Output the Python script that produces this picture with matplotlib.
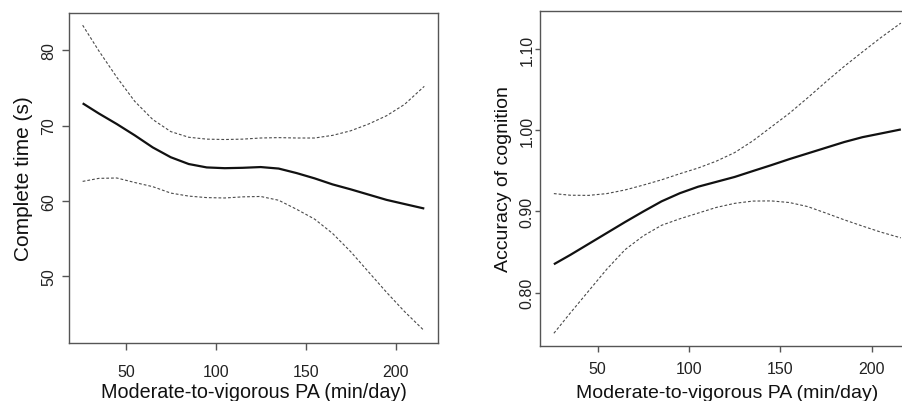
import matplotlib
matplotlib.use("Agg")
import matplotlib.pyplot as plt

plt.rcParams['font.family'] = ['Liberation Sans', 'DejaVu Sans']

# Shared x positions (MVPA, min/day)
x_vals = [26, 35, 45, 55, 65, 75, 85, 95, 105, 115, 125, 135, 145, 155, 165, 175, 185, 195, 205, 216]

# Left panel: Complete time (s)
fit_left = [72.95, 71.6, 70.2, 68.7, 67.1, 65.8, 64.9, 64.45, 64.35, 64.4,
            64.5, 64.3, 63.7, 63.0, 62.2, 61.55, 60.85, 60.15, 59.6, 59.0]
upper_left = [83.3, 79.9, 76.4, 73.2, 70.8, 69.2, 68.45, 68.2, 68.15, 68.2,
              68.35, 68.4, 68.35, 68.35, 68.7, 69.3, 70.2, 71.3, 72.8, 75.2]
lower_left = [62.6, 63.0, 63.05, 62.45, 61.9, 61.05, 60.65, 60.45, 60.4, 60.55,
              60.6, 60.1, 58.9, 57.6, 55.7, 53.3, 50.6, 47.9, 45.35, 42.8]

# Right panel: Accuracy of cognition
fit_right = [0.835, 0.8465, 0.860, 0.8735, 0.887, 0.900, 0.9125, 0.9225, 0.9305, 0.9365,
             0.9425, 0.9498, 0.957, 0.9645, 0.9715, 0.9785, 0.9855, 0.9915, 0.996, 1.001]
upper_right = [0.922, 0.920, 0.9198, 0.922, 0.9265, 0.9325, 0.939, 0.9465, 0.9535, 0.962,
               0.9725, 0.987, 1.004, 1.021, 1.040, 1.0597, 1.0787, 1.0965, 1.114, 1.132]
lower_right = [0.750, 0.775, 0.802, 0.829, 0.853, 0.870, 0.883, 0.891, 0.898, 0.905,
               0.910, 0.9128, 0.913, 0.911, 0.906, 0.898, 0.8897, 0.882, 0.8746, 0.8675]

xticks = [50, 100, 150, 200]
yticks_left = [50, 60, 70, 80]
yticks_right = [0.80, 0.90, 1.00, 1.10]
xlabel = "Moderate-to-vigorous PA (min/day)"
ylabel_left = "Complete time (s)"
ylabel_right = "Accuracy of cognition"

fig = plt.figure(figsize=(9.03, 4.02), dpi=100)
ax1 = fig.add_axes([0.0764, 0.1443, 0.4086, 0.8209])
ax2 = fig.add_axes([0.598, 0.1376, 0.415, 0.8334])

box_col = '#555555'
ci_col = '#4a4a4a'


def style(ax, xs, ys, ylabel, yticks, yfmt, cfg):
    ax.plot(xs, ys[0], color='#111111', lw=1.6, solid_capstyle='butt')
    ax.plot(xs, ys[1], color=ci_col, lw=0.8, dashes=(2.5, 1.8))
    ax.plot(xs, ys[2], color=ci_col, lw=0.8, dashes=(2.5, 1.8))
    lo = min(min(ys[2]), min(ys[0]))
    hi = max(max(ys[1]), max(ys[0]))
    pad = (hi - lo) * 0.04
    ax.set_ylim(lo - pad, hi + pad)
    xpad = (max(xs) - min(xs)) * 0.04
    ax.set_xlim(min(xs) - xpad, max(xs) + xpad)
    ax.set_xticks(xticks)
    ax.set_xticklabels([str(t) for t in xticks])
    ax.set_yticks(yticks)
    ax.set_yticklabels([yfmt.format(t) for t in yticks], rotation=90, va='center')
    for s in ax.spines.values():
        s.set_color(box_col)
        s.set_linewidth(1.0)
    ax.tick_params(axis='both', direction='out', width=1.0, color=box_col,
                   labelsize=cfg['tick_size'], labelcolor='#222222')
    ax.tick_params(axis='x', length=cfg['xlen'], pad=cfg['xpad'])
    ax.tick_params(axis='y', length=cfg['ylen'], pad=cfg['ypad'])
    ax.set_ylabel(ylabel, fontsize=cfg['ylab_size'], color='#111111', labelpad=cfg['ylabpad'])
    ax.set_xlabel(xlabel, fontsize=cfg['xlab_size'], color='#111111', labelpad=cfg['xlabpad'])


style(ax1, x_vals, (fit_left, upper_left, lower_left), ylabel_left, yticks_left, "{:d}",
      dict(tick_size=11.5, xlen=5, ylen=5, xpad=10, ypad=4, ylab_size=15, ylabpad=6,
           xlab_size=14.2, xlabpad=2))
style(ax2, x_vals, (fit_right, upper_right, lower_right), ylabel_right, yticks_right, "{:.2f}",
      dict(tick_size=11.5, xlen=4, ylen=3.6, xpad=7, ypad=0.5, ylab_size=14, ylabpad=5,
           xlab_size=14, xlabpad=6))

fig.savefig("out.png", dpi=100)
